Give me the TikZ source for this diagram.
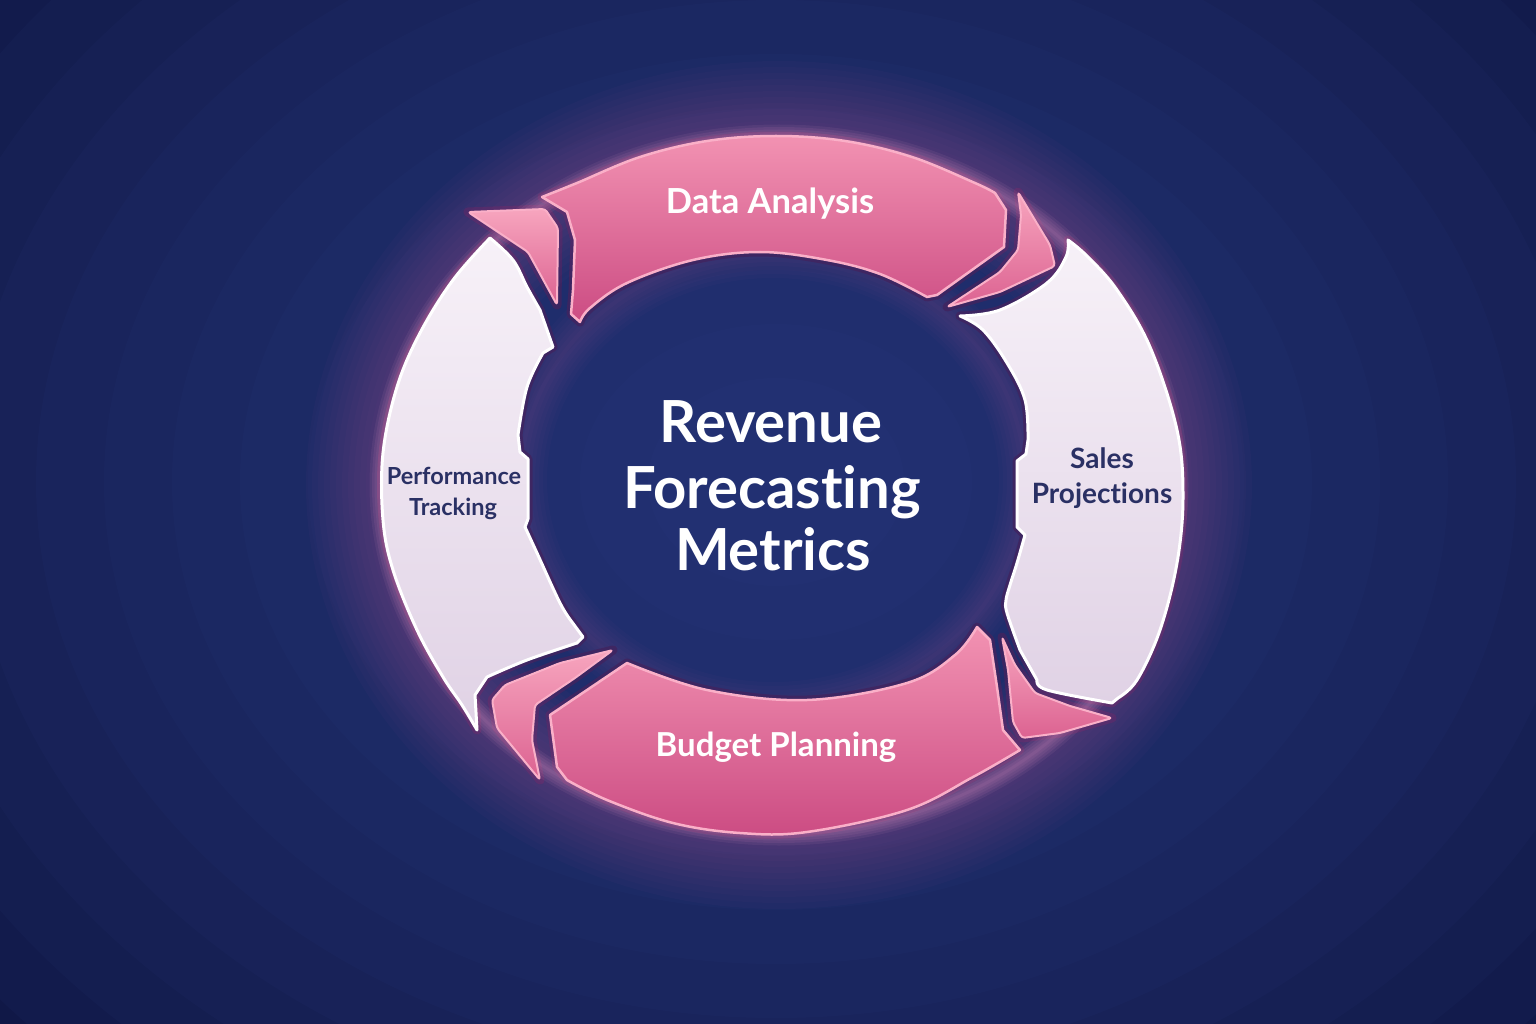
\documentclass[tikz,border=0pt]{standalone}
\usepackage{fontspec}
\setmainfont{Lato}[Ligatures=NoCommon]
\definecolor{bgBase}{RGB}{14,21,66}
\definecolor{bgLight}{RGB}{52,70,145}
\definecolor{pinkA}{RGB}{242,146,178}
\definecolor{pinkB}{RGB}{204,76,131}
\definecolor{pinkEdge}{RGB}{250,176,200}
\definecolor{pieceA}{RGB}{247,165,190}
\definecolor{pieceB}{RGB}{220,98,145}
\definecolor{lightA}{RGB}{247,241,248}
\definecolor{lightB}{RGB}{224,210,229}
\definecolor{navytext}{RGB}{42,48,100}
\definecolor{shadowc}{RGB}{64,36,96}
\definecolor{glowc}{RGB}{190,84,165}
\definecolor{rimc}{RGB}{250,170,210}
\tikzset{
  ctext/.style={font=\fontsize{58}{63}\selectfont\bfseries, text=white, inner sep=0pt},
  ptext/.style={font=\fontsize{34.5}{38}\selectfont\bfseries, text=white, inner sep=0pt},
  ltext/.style={font=\fontsize{23.5}{27}\selectfont\bfseries, text=navytext, inner sep=0pt},
  stext/.style={font=\fontsize{28}{31}\selectfont\bfseries, text=navytext, inner sep=0pt},
  shadowst/.style={draw=shadowc, fill=shadowc, line width=9pt, line join=round, opacity=0.85},
  pinkseg/.style={top color=pinkA, bottom color=pinkB, draw=pinkEdge, line width=2.5pt, line join=round},
  pinkpiece/.style={top color=pieceA, bottom color=pieceB, draw=pinkEdge, line width=2pt, line join=round, rounded corners=3pt},
  lightseg/.style={top color=lightA, bottom color=lightB, draw=white, line width=3pt, line join=round},
  glowst/.style={draw=glowc, opacity=0.032},
  rimst/.style={draw=rimc, opacity=0.07},
  bglayer/.style={fill=bgLight, opacity=0.07},
}
\newcommand\tpPath{plot[smooth,tension=0.6] coordinates {(542,197)(577,183)(640,157)(707,141)(776,136)(845,141)(912,157)(975,183)(995,193)} -- (1006,210) -- (1004,247) -- (937,295) -- plot[smooth,tension=0.6] coordinates {(927,297)(880,274)(827,260)(760,252)(693,260)(627,283)(590,308)(580,322)} -- (571,314) -- (573,290) -- (575,240) -- (567,212) -- cycle}
\newcommand\tlPath{(468,212) -- (545,209) -- (558,228) -- (557,305) -- (528,252) -- cycle}
\newcommand\rlPath{plot[smooth,tension=0.6] coordinates {(960,316)(1000,310)(1047,283)(1066,257)(1068,240)} -- plot[smooth,tension=0.6] coordinates {(1068,240)(1087,256)(1117,290)(1150,347)(1177,430)(1183,497)(1177,563)(1160,630)(1137,680)(1118,698)} -- plot[smooth,tension=0.6] coordinates {(1112,703)(1047,690)(1037,680)} -- plot[smooth,tension=0.6] coordinates {(1020,650)(1007,613)(1006,600)(1010,585)(1017,563)(1025,535)} -- (1017,527) -- (1017,461) -- (1026,454) -- plot[smooth,tension=0.6] coordinates {(1028,440)(1025,400)(1007,363)(983,330)(960,316)} -- cycle}
\newcommand\trPath{(1018,192) -- (1050,245) -- (1055,266) -- (1000,292) -- (947,307) -- (1000,272) -- (1018,250) -- (1021,215) -- cycle}
\newcommand\brPath{(1002,637) -- (1008,670) -- (1013,722) -- (1022,738) -- (1060,733) -- (1112,718) -- (1070,706) -- (1035,693) -- (1015,665) -- cycle}
\newcommand\bpPath{plot[smooth,tension=0.6] coordinates {(627,663)(707,690)(807,700)(907,683)(955,655)(977,627)} -- (990,640) -- (997,687) -- (1003,730) -- (1020,750) -- plot[smooth,tension=0.6] coordinates {(1020,750)(973,777)(907,810)(807,832)(740,833)(673,823)(607,800)(567,780)} -- (557,767) -- (550,715) -- cycle}
\newcommand\blPath{(613,650) -- (560,663) -- (505,685) -- (492,700) -- (497,728) -- (540,780) -- (532,740) -- (535,705) -- (575,678) -- cycle}
\newcommand\llPath{plot[smooth,tension=0.6] coordinates {(490,238)(453,280)(420,333)(397,387)(383,453)(383,520)(393,570)(417,630)(443,677)(462,705)(477,730)} -- (475,695) -- plot[smooth,tension=0.6] coordinates {(487,677)(527,660)(577,643)} -- (583,637) -- plot[smooth,tension=0.6] coordinates {(572,622)(560,603)(537,553)(525,527)} -- (528,519) -- (528,459) -- (520,452) -- plot[smooth,tension=0.6] coordinates {(518,435)(527,387)(543,353)} -- (553,347) -- plot[smooth,tension=0.6] coordinates {(540,310)(527,287)(513,260)(490,238)} -- cycle}
\begin{document}
\begin{tikzpicture}[x=1pt,y=-1pt]
\useasboundingbox (0,0) rectangle (1536,1024);
\fill[bgBase] (0,0) rectangle (1536,1024);
% radial background gradient
\foreach \i in {0,...,14} {
  \fill[bglayer] (776,482) ellipse [x radius={(1080-68*\i)*1pt}, y radius={(860-54*\i)*1pt}];
}
% inner soft glow
\foreach \w in {4,12,...,52} {
  \draw[glowst, opacity=0.03, line width=\w pt] (773,480) ellipse [x radius=252pt, y radius=228pt];
}
% shadows / recessed gaps
\path[shadowst] \tpPath;
\path[shadowst] \tlPath;
\path[shadowst] \rlPath;
\path[shadowst] \trPath;
\path[shadowst] \brPath;
\path[shadowst] \bpPath;
\path[shadowst] \blPath;
\path[shadowst] \llPath;
% outer glow
\foreach \w in {6,18,...,150} {
  \draw[glowst, line width=\w pt] (779,485) ellipse [x radius=398pt, y radius=349pt];
}
\foreach \w in {3,8,...,23} {
  \draw[rimst, line width=\w pt] (779,485) ellipse [x radius=398pt, y radius=349pt];
}
% segments
\draw[lightseg] \llPath;
\draw[lightseg] \rlPath;
\draw[pinkseg] \tpPath;
\draw[pinkseg] \bpPath;
\draw[pinkpiece] \tlPath;
\draw[pinkpiece] \trPath;
\draw[pinkpiece] \brPath;
\draw[pinkpiece] \blPath;
% labels
\node[ptext, anchor=base] (data) at (770,214) {Data Analysis};
\node[ptext, font=\fontsize{33}{36}\selectfont\bfseries, anchor=base] (budget) at (776,756) {Budget Planning};
\node[stext, anchor=base] (salesA) at (1102,468) {Sales};
\node[stext, anchor=base] (salesB) at (1102,503) {Projections};
\node[ltext, anchor=base] (perfA) at (454,484) {Performance};
\node[ltext, anchor=base] (perfB) at (453,515) {Tracking};
\node[ctext, anchor=base] (rev) at (771,442) {Revenue};
\node[ctext, anchor=base] (fore) at (772,508) {Forecasting};
\node[ctext, anchor=base] (met) at (773,570) {Metrics};
\end{tikzpicture}
\end{document}
